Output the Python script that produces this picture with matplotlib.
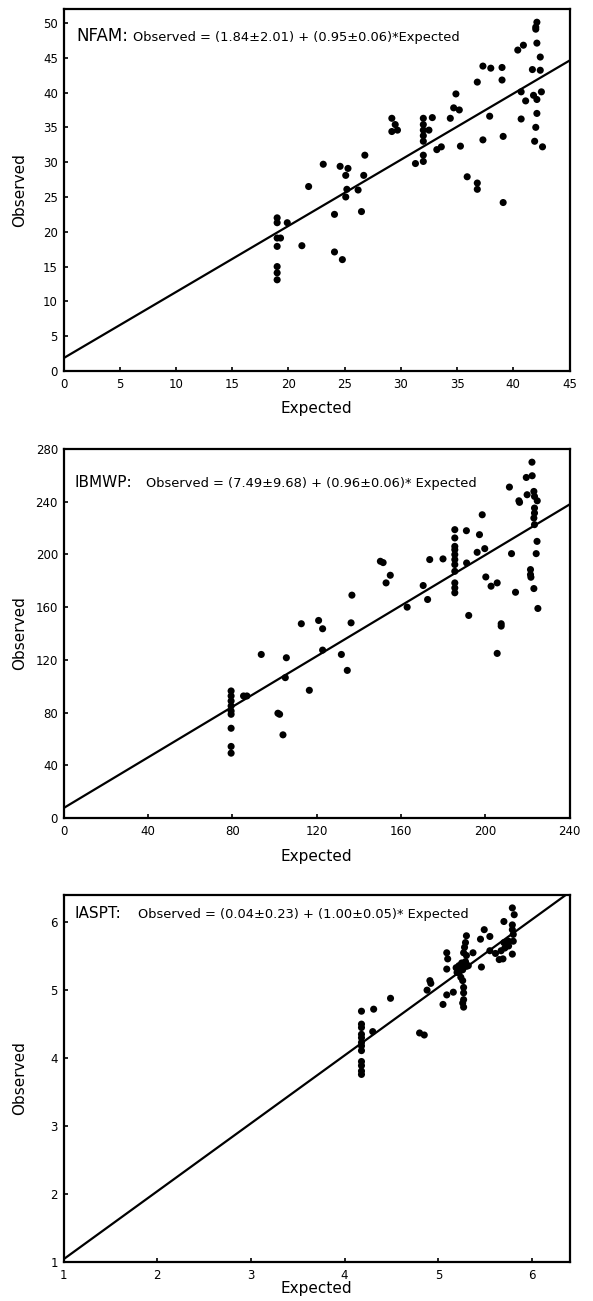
import matplotlib
matplotlib.use("Agg")
import matplotlib.pyplot as plt
import numpy as np

plt.rcParams['font.family'] = ['DejaVu Sans']

# ---------------- data ----------------
nfam_expected = [19.0, 19.0, 19.0, 19.3, 19.0, 19.0, 19.0, 19.0, 19.9, 21.2, 21.8, 23.1, 24.1, 24.1,
                 24.8, 24.6, 25.3, 25.1, 25.2, 25.1, 26.2, 26.5, 26.7, 26.8, 29.2, 29.5, 29.2, 29.7,
                 31.3, 32.0, 32.0, 32.0, 32.5, 32.0, 32.0, 32.0, 32.0, 32.8, 33.2, 33.6, 34.4, 34.7,
                 35.2, 34.9, 35.3, 35.9, 36.8, 36.8, 36.8, 37.3, 38.0, 37.3, 37.9, 39.0, 39.0, 39.1,
                 39.1, 40.4, 40.9, 40.7, 41.1, 40.7, 41.7, 42.4, 41.8, 42.1, 42.5, 42.1, 42.0, 42.0,
                 42.1, 42.4, 42.1, 42.0, 41.9, 42.6]
nfam_observed = [22.0, 21.3, 19.1, 19.1, 17.9, 15.0, 14.1, 13.1, 21.3, 18.0, 26.5, 29.7, 22.5, 17.1,
                 16.0, 29.4, 29.1, 28.1, 26.1, 25.0, 26.0, 22.9, 28.1, 31.0, 36.3, 35.4, 34.4, 34.6,
                 29.8, 36.3, 35.4, 34.6, 34.6, 33.8, 33.0, 31.0, 30.1, 36.4, 31.8, 32.2, 36.3, 37.8,
                 37.5, 39.8, 32.3, 27.9, 27.0, 26.1, 41.5, 43.8, 43.5, 33.2, 36.6, 43.6, 41.8, 33.7,
                 24.2, 46.1, 46.8, 40.1, 38.8, 36.2, 43.3, 43.2, 39.6, 39.0, 40.1, 50.1, 49.4, 49.1,
                 47.1, 45.1, 37.0, 35.0, 33.0, 32.2]

ibmwp_expected = [79.5, 79.5, 79.5, 79.5, 79.5, 79.5, 79.5, 79.5, 79.5, 85.4, 87.0, 93.8, 101.7, 102.5,
                  104.1, 105.7, 105.2, 112.8, 116.6, 121.0, 122.9, 122.9, 131.8, 134.6, 136.4, 136.8,
                  150.3, 151.6, 155.0, 153.0, 163.0, 170.6, 172.7, 173.7, 180.0,
                  185.6, 185.6, 185.6, 185.6, 185.6, 185.6, 185.6, 185.6, 185.6, 185.6, 185.6,
                  191.1, 191.2, 192.2, 197.3, 196.2, 198.6, 199.8, 200.3, 202.8, 205.7, 205.7, 207.6,
                  207.6, 211.5, 212.5, 214.4, 216.0, 216.3, 219.5, 222.3, 222.2, 219.9, 223.1, 223.4,
                  224.7, 223.4, 223.4, 223.1, 223.4, 224.6, 224.2, 221.5, 221.5, 221.7, 223.1, 225.0]
ibmwp_observed = [96.4, 92.6, 88.8, 85.0, 81.2, 78.7, 68.1, 54.3, 49.2, 92.6, 92.6, 124.1, 79.5, 78.7,
                  63.1, 121.6, 106.5, 147.4, 96.9, 149.9, 143.6, 127.4, 124.1, 112.0, 148.1, 169.1,
                  194.8, 193.8, 184.2, 178.4, 160.0, 176.4, 165.8, 196.1, 196.6,
                  218.8, 212.5, 206.1, 203.6, 199.9, 196.1, 192.3, 187.2, 178.4, 174.6, 170.9,
                  218.0, 193.5, 153.7, 215.0, 201.6, 230.1, 204.4, 182.9, 175.9, 178.4, 124.9, 147.4,
                  145.6, 251.1, 200.6, 171.3, 240.7, 239.5, 258.4, 259.7, 270.0, 245.3, 247.8, 244.0,
                  240.7, 235.2, 231.4, 227.6, 222.6, 209.9, 200.6, 188.5, 184.7, 182.7, 174.1, 159.0]

iaspt_expected = [4.18, 4.18, 4.18, 4.18, 4.18, 4.18, 4.18, 4.18, 4.18, 4.18, 4.18, 4.18,
                  4.30, 4.31, 4.49, 4.80, 4.85, 4.88, 4.91, 4.92, 5.05, 5.09, 5.16, 5.09, 5.10, 5.09,
                  5.19, 5.22, 5.20, 5.23, 5.25, 5.26, 5.27, 5.24, 5.26, 5.29, 5.27, 5.30, 5.28, 5.29,
                  5.30, 5.37, 5.32, 5.27, 5.27, 5.27, 5.27, 5.26, 5.30,
                  5.46, 5.45, 5.49, 5.55, 5.55, 5.61, 5.65, 5.69, 5.67, 5.70, 5.71, 5.70, 5.75,
                  5.79, 5.81, 5.79, 5.79, 5.80, 5.80, 5.79, 5.75]
iaspt_observed = [4.69, 4.50, 4.45, 4.35, 4.30, 4.23, 4.18, 4.11, 3.95, 3.89, 3.81, 3.76,
                  4.39, 4.72, 4.88, 4.37, 4.34, 5.00, 5.14, 5.10, 4.79, 4.93, 4.97, 5.55, 5.46, 5.31,
                  5.33, 5.36, 5.26, 5.28, 5.40, 5.30, 5.35, 5.19, 5.14, 5.42, 5.55, 5.51, 5.63, 5.70,
                  5.80, 5.55, 5.36, 5.04, 4.96, 4.86, 4.75, 4.81, 5.35,
                  5.34, 5.75, 5.89, 5.79, 5.58, 5.54, 5.45, 5.46, 5.58, 6.01, 5.62, 5.70, 5.65,
                  6.21, 6.11, 5.96, 5.89, 5.82, 5.72, 5.53, 5.72]

names = ["NFAM:", "IBMWP:", "IASPT:"]
equations = ["Observed = (1.84\u00b12.01) + (0.95\u00b10.06)*Expected",
             "Observed = (7.49\u00b19.68) + (0.96\u00b10.06)* Expected",
             "Observed = (0.04\u00b10.23) + (1.00\u00b10.05)* Expected"]
intercepts = [1.84, 7.49, 0.04]
slopes = [0.95, 0.96, 1.00]
xlims = [(0, 45), (0, 240), (1, 6.4)]
ylims = [(0, 52), (0, 280), (1, 6.4)]
xticks = [list(range(0, 46, 5)), list(range(0, 241, 40)), [1, 2, 3, 4, 5, 6]]
yticks = [list(range(0, 51, 5)), list(range(0, 281, 40)), [1, 2, 3, 4, 5, 6]]

# ---------------- layout (pixels) ----------------
W, H = 593, 1301
fig = plt.figure(figsize=(W / 100, H / 100), dpi=100)
left_px, right_px = 63.5, 569.5
panels_px = [(9, 371), (449, 818), (895, 1262)]   # (top, bottom)
name_x = [76, 75, 75]
eq_x = [133, 146, 138]
text_base = [41, 487, 918]
xlabel_y = [408, 857, 1288]

data = [(nfam_expected, nfam_observed), (ibmwp_expected, ibmwp_observed), (iaspt_expected, iaspt_observed)]

for i in range(3):
    top, bot = panels_px[i]
    ax = fig.add_axes([left_px / W, 1 - bot / H, (right_px - left_px) / W, (bot - top) / H])
    ex, ob = data[i]
    ax.scatter(ex, ob, s=26, color='black', edgecolors='none', zorder=3)
    xs = np.array(xlims[i], dtype=float)
    ax.plot(xs, intercepts[i] + slopes[i] * xs, color='black', lw=1.6, zorder=2)
    ax.set_xlim(*xlims[i])
    ax.set_ylim(*ylims[i])
    ax.set_xticks(xticks[i])
    ax.set_yticks(yticks[i])
    ax.tick_params(direction='in', length=3, width=1.2, labelsize=8.5, top=False, right=False)
    ax.tick_params(axis='x', pad=5)
    ax.tick_params(axis='y', pad=4)
    for sp in ax.spines.values():
        sp.set_linewidth(1.6)
    fig.text(name_x[i] / W, 1 - text_base[i] / H, names[i], fontsize=12 if i == 0 else 11,
             va='baseline', ha='left')
    fig.text(eq_x[i] / W, 1 - text_base[i] / H, equations[i], fontsize=9.4, va='baseline', ha='left')
    fig.text((left_px + right_px) / 2 / W, 1 - xlabel_y[i] / H, "Expected", fontsize=11,
             ha='center', va='center')
    fig.text(20 / W, 1 - (top + bot) / 2 / H, "Observed", fontsize=11, rotation=90,
             ha='center', va='center')

fig.savefig("out.png", dpi=100)
